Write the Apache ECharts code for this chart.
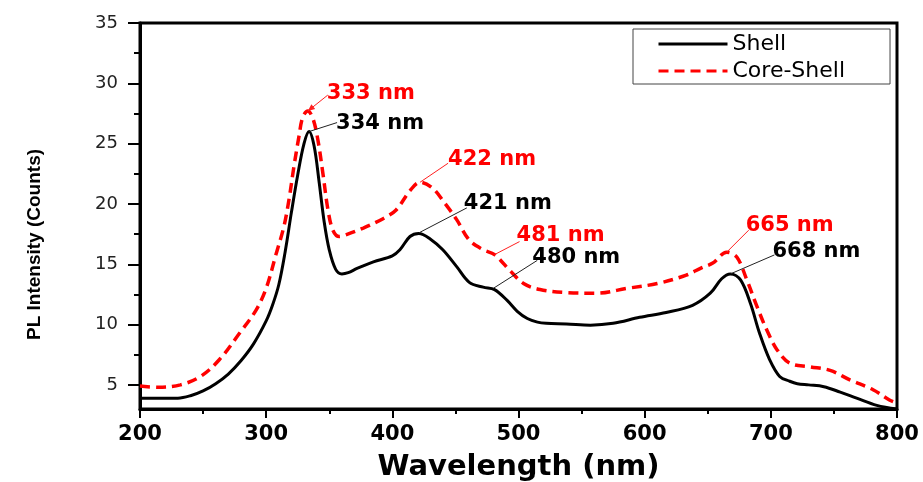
<!DOCTYPE html>
<html>
<head>
<meta charset="utf-8">
<script src="https://cdn.jsdelivr.net/npm/echarts@6/dist/echarts.min.js"></script>
<style>
html,body{margin:0;padding:0;background:#fff;}
#chart{width:923px;height:482px;}
</style>
</head>
<body>
<div id="chart"></div>
<script>
// ---- data ----
const xTicks = [200, 300, 400, 500, 600, 700, 800];
const yTickLabels = [5, 10, 15, 20, 25, 30, 35];
const yMinorTicks = [7.5, 12.5, 17.5, 22.5, 27.5, 32.5];

const shellWavelength = [200,230,240,250,260,270,280,290,300,305,310,315,320,325,330,334,338,342,346,350,355,360,365,372,385,400,406,414,421,430,440,451,461,472,481,491,499,507,515,522,538,557,575,596,617,638,652,661,668,676,684,691,699,707,715,721,730,742,755,768,784,800];
const shellIntensity  = [3.9,3.9,4.1,4.5,5.1,5.9,7.0,8.4,10.3,11.6,13.3,16.0,19.3,22.4,25.0,26.0,24.8,21.8,18.5,16.2,14.6,14.2,14.3,14.65,15.2,15.7,16.2,17.3,17.55,17.1,16.2,14.8,13.5,13.1,12.9,12.0,11.1,10.5,10.2,10.1,10.05,9.95,10.1,10.6,11.0,11.6,12.6,13.8,14.2,13.7,11.7,9.3,7.1,5.7,5.3,5.1,5.0,4.85,4.4,3.9,3.3,3.0];

const coreWavelength = [200,215,232,248,263,279,292,300,308,314,318,322,326,329,333,337,341,345,349,353,358,362,377,393,403,414,422,432,442,451,461,472,481,493,504,517,538,562,586,610,633,645,654,665,673,681,689,697,705,715,731,747,763,781,794,800];
const coreIntensity  = [4.9,4.8,5.0,5.7,7.1,9.3,11.2,13.0,15.9,18.1,20.3,23.1,25.6,27.2,27.7,27.1,25.3,22.5,19.5,17.8,17.3,17.4,18.0,18.8,19.5,21.1,21.8,21.3,20.0,18.7,17.0,16.2,15.8,14.5,13.4,12.9,12.65,12.6,13.0,13.4,14.1,14.7,15.1,16.0,15.6,13.7,11.5,9.5,7.9,6.8,6.5,6.2,5.4,4.6,3.75,3.5];

// peak annotations
const peakWavelength = [333, 334, 422, 421, 481, 480, 665, 668];
const peakIntensity  = [27.7, 26.0, 21.8, 17.6, 15.8, 13.0, 16.0, 14.2];
const peakLabels     = ['333 nm','334 nm','422 nm','421 nm','481 nm','480 nm','665 nm','668 nm'];
const peakSeries     = ['Core-Shell','Shell','Core-Shell','Shell','Core-Shell','Shell','Core-Shell','Shell'];

// ---- layout (pixels, separate from data) ----
const leaderEnd  = [[20,-16],[28,-9],[28,-19],[48,-25],[25,-13],[44,-28],[22,-22],[44,-19]];
const textShift  = [[-1,-2],[-1,1],[0,-4],[-3,-4],[-3,-6],[-5,-3],[-3,-5],[-2,-3]];
const withArrow  = [true,false,false,false,false,false,false,false];
const colorOf = {'Shell':'#000000','Core-Shell':'#ff0000'};
const leaderColor = {'Shell':'#222222','Core-Shell':'#ff2020'};

const zip = (a, b) => a.map((v, i) => [v, b[i]]);
const peakData = peakWavelength.map((w, i) => [w, peakIntensity[i], i]);

const chart = echarts.init(document.getElementById('chart'));
const tickStyle = {color:'#000', width:2};

chart.setOption({
  animation: false,
  backgroundColor: '#fff',
  grid: {left:140, right:26, top:23, bottom:73, outerBoundsMode:'none', containLabel:false,
         show:true, borderColor:'#000', borderWidth:3, backgroundColor:'transparent'},
  legend: {
    data: ['Shell','Core-Shell'],
    orient: 'vertical',
    left: 633, top: 29,
    padding: [4, 45, 2, 24],
    itemWidth: 69, itemHeight: 14, itemGap: 5,
    borderColor: '#444', borderWidth: 1, backgroundColor: '#fff',
    itemStyle: {color:'transparent', borderColor:'transparent', borderWidth:0, opacity:0},
    lineStyle: {width: 3},
    textStyle: {fontFamily:'DejaVu Sans', fontSize:22, lineHeight:18, color:'#000'}
  },
  xAxis: {
    type: 'value', min: xTicks[0], max: xTicks[xTicks.length-1], interval: 100,
    name: 'Wavelength (nm)', nameLocation: 'middle', nameGap: 44,
    nameTextStyle: {fontFamily:'DejaVu Sans', fontWeight:'bold', fontSize:29, color:'#000'},
    axisLine: {lineStyle:{color:'#000', width:3}},
    axisTick: {inside:false, length:9, lineStyle:tickStyle},
    minorTick: {show:true, splitNumber:2, length:5, lineStyle:tickStyle},
    splitLine: {show:false}, minorSplitLine: {show:false},
    axisLabel: {margin:15, fontFamily:'DejaVu Sans', fontWeight:'bold', fontSize:21, color:'#000'}
  },
  yAxis: [{
    type: 'value', min: 3, max: 35, position: 'left',
    name: 'PL Intensity (Counts)', nameLocation: 'middle', nameGap: 96,
    nameTextStyle: {fontFamily:'Liberation Sans', fontWeight:'bold', fontSize:19, color:'#000', padding:[0,57,0,0]},
    axisLine: {show:true, lineStyle:{color:'#000', width:3}},
    axisTick: {show:true, length:12, lineStyle:tickStyle, customValues: yTickLabels},
    axisLabel: {margin:22, fontFamily:'DejaVu Sans', fontSize:18, color:'#222', customValues: yTickLabels},
    splitLine: {show:false}
  },{
    type: 'value', min: 3, max: 35, position: 'left', offset: 0,
    axisLine: {show:false},
    axisTick: {show:true, length:6, lineStyle:tickStyle, customValues: yMinorTicks},
    axisLabel: {show:false},
    splitLine: {show:false}
  }],
  series: [{
    name: 'Shell', type: 'line', data: zip(shellWavelength, shellIntensity),
    symbol: 'none', smooth: 0.35, z: 3,
    lineStyle: {color:'#000', width:3},
    itemStyle: {color:'#000'}
  },{
    name: 'Core-Shell', type: 'line', data: zip(coreWavelength, coreIntensity),
    symbol: 'none', smooth: 0.35, z: 4,
    lineStyle: {color:'#ff0000', width:3.5, type:[10,6]},
    itemStyle: {color:'#ff0000'}
  },{
    name: 'peaks', type: 'custom', data: peakData, z: 5, clip: false, silent: true,
    encode: {x:0, y:1},
    renderItem: function (params, api) {
      const i = api.value(2);
      const p = api.coord([api.value(0), api.value(1)]);
      const e = [p[0] + leaderEnd[i][0], p[1] + leaderEnd[i][1]];
      const s = peakSeries[i];
      const children = [{
        type: 'line',
        shape: {x1:p[0], y1:p[1], x2:e[0], y2:e[1]},
        style: {stroke: leaderColor[s], lineWidth: 1}
      },{
        type: 'text',
        style: {
          text: peakLabels[i], x: e[0] + textShift[i][0], y: e[1] + textShift[i][1],
          align: 'left', verticalAlign: 'middle',
          fill: colorOf[s], font: 'bold 21px "DejaVu Sans"'
        }
      }];
      if (withArrow[i]) {
        const dx = p[0] - e[0], dy = p[1] - e[1];
        const L = Math.sqrt(dx*dx + dy*dy);
        const ux = dx / L, uy = dy / L;
        const bx = p[0] - ux*7, by = p[1] - uy*7;
        children.push({
          type: 'polygon',
          shape: {points: [[p[0], p[1]], [bx - uy*3, by + ux*3], [bx + uy*3, by - ux*3]]},
          style: {fill: leaderColor[s]}
        });
      }
      return {type:'group', children: children};
    }
  }]
});
</script>
</body>
</html>
